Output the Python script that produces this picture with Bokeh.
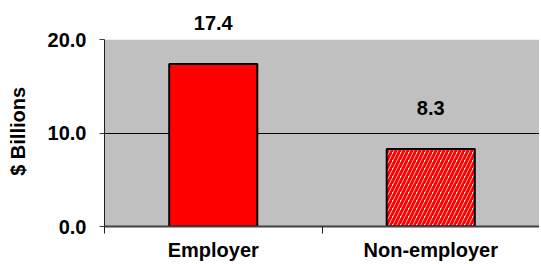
from bokeh.plotting import figure
from bokeh.models import (Range1d, FixedTicker, PrintfTickFormatter, BoxAnnotation,
                          ColumnDataSource)
from bokeh.core.properties import value
from bokeh.embed import file_html
from bokeh.resources import INLINE

categories = ["Employer", "Non-employer"]
values = [17.4, 8.3]
labels = ["17.4", "8.3"]
fills = ["#ff0000", "#ffffff"]
hatches = [" ", "/"]
y_ticks = [0, 10, 20]
y_title = "$ Billions"

FONT = "Liberation Sans"
NBSP = "\u00a0"

xs = [i + 0.5 for i in range(len(categories))]
src = ColumnDataSource(dict(x=xs, top=values, label=labels, fill=fills, hatch=hatches))

p = figure(width=539, height=263, output_backend="svg", toolbar_location=None,
           x_range=Range1d(0, len(categories)), y_range=Range1d(0, 23.36),
           min_border_left=104, min_border_right=0, min_border_top=8, min_border_bottom=0)
p.outline_line_color = None
p.background_fill_color = "white"
p.border_fill_color = "white"

p.add_layout(BoxAnnotation(bottom=0, top=20, fill_color="#c0c0c0", fill_alpha=1,
                           line_color=None, level="image"))

p.vbar(x="x", top="top", width=0.405, bottom=0, source=src, fill_color="fill",
       line_color="black", line_width=2, hatch_pattern="hatch", hatch_color="#ff0000",
       hatch_scale=8, hatch_weight=3)

p.text(x="x", y="top", text="label", source=src, text_align="center",
       text_baseline="alphabetic", y_offset=-41, text_font=value(FONT),
       text_font_style="bold", text_font_size="20px", text_color="black")

# grid
p.xgrid.visible = False
p.ygrid.ticker = FixedTicker(ticks=[10])
p.ygrid.grid_line_color = "black"
p.ygrid.grid_line_width = 1
p.ygrid.level = "underlay"

# y axis
ya = p.yaxis[0]
ya.ticker = FixedTicker(ticks=y_ticks)
ya.bounds = (0, 20)
ya.formatter = PrintfTickFormatter(format="%.1f")
ya.axis_line_color = "#202020"
ya.axis_line_width = 1
ya.major_tick_line_color = "#404040"
ya.major_tick_in = 0
ya.major_tick_out = 5
ya.minor_tick_line_color = None
ya.major_label_text_font = FONT
ya.major_label_text_font_style = "bold"
ya.major_label_text_font_size = "20px"
ya.major_label_text_color = "black"
ya.major_label_standoff = 13
# trailing no-break spaces centre the title on the 0-20 part of the axis
ya.axis_label = y_title + NBSP * 5
ya.axis_label_text_font = FONT
ya.axis_label_text_font_style = "bold"
ya.axis_label_text_font_size = "20px"
ya.axis_label_text_color = "black"
ya.axis_label_standoff = 16

# x axis
xa = p.xaxis[0]
xa.ticker = FixedTicker(ticks=xs, minor_ticks=list(range(len(categories) + 1)))
xa.major_label_overrides = {x: c for x, c in zip(xs, categories)}
xa.axis_line_color = "#404040"
xa.axis_line_width = 2
xa.major_tick_in = 0
xa.major_tick_out = 0
xa.minor_tick_in = 0
xa.minor_tick_out = 7
xa.minor_tick_line_color = "#202020"
xa.minor_tick_line_width = 1
xa.major_label_text_font = FONT
xa.major_label_text_font_style = "bold"
xa.major_label_text_font_size = "20px"
xa.major_label_text_color = "black"
xa.major_label_standoff = 5

open("out.html", "w").write(file_html(p, INLINE))
